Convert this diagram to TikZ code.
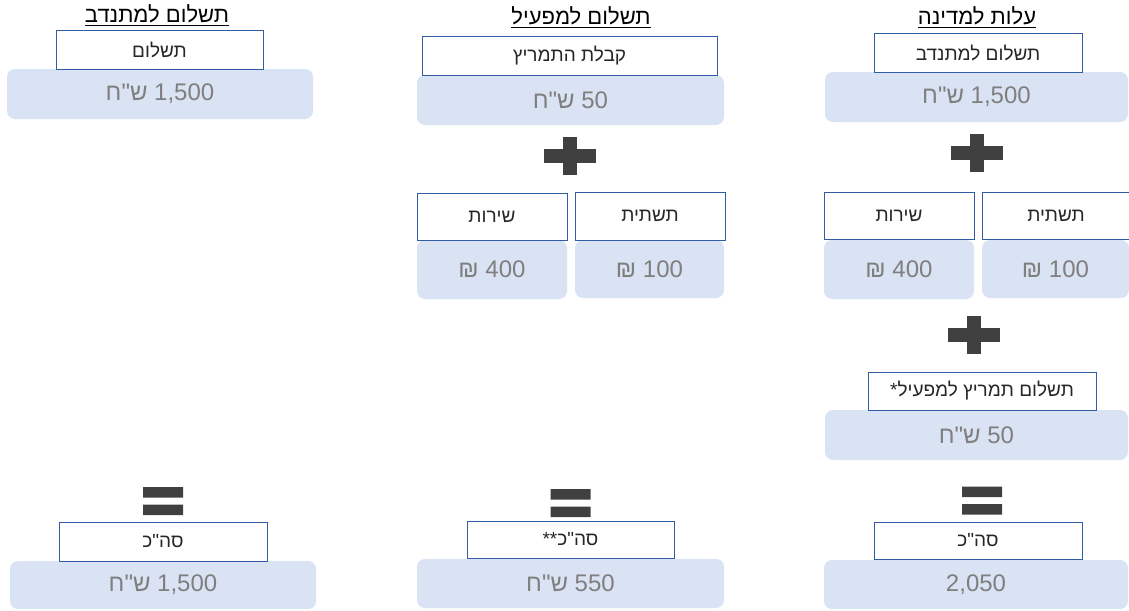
\documentclass[tikz,border=0pt]{standalone}
\usepackage{fontspec}
\setmainfont{Liberation Sans}
\newfontfamily\hebfont[Script=Hebrew]{Liberation Sans}
\TeXXeTstate=1
\newcommand{\heb}[1]{{\hebfont\beginR #1\endR}}

\definecolor{boxblue}{HTML}{2F5CA5}
\definecolor{valfill}{HTML}{DAE3F3}
\definecolor{valgray}{HTML}{7F7F7F}
\definecolor{labdark}{HTML}{262626}
\definecolor{signgray}{HTML}{404040}

\tikzset{
  head/.style={anchor=base, text=black, inner sep=0pt, font=\fontsize{22}{26}\selectfont},
  labelbox/.style={draw=boxblue, line width=1pt, fill=white, text=labdark, inner sep=0pt, font=\fontsize{19}{22}\selectfont},
  valbox/.style={fill=valfill, rounded corners=8pt, text=valgray, inner sep=0pt, font=\fontsize{24}{28}\selectfont},
  sz/.style 2 args={minimum width=#1pt, minimum height=#2pt}
}

\begin{document}
\begin{tikzpicture}[x=1pt, y=-1pt]
  \useasboundingbox (0,0) rectangle (1129,610);

  % Draw headers
  \node[head] (volHead) at (157,23) {\underline{\heb{תשלום למתנדב}}};
  \node[head] (opHead) at (581,25) {\underline{\heb{תשלום למפעיל}}};
  \node[head] (stHead) at (977,25) {\underline{\heb{עלות למדינה}}};

  % Draw value boxes
  \node[valbox, sz={306}{50}] (volValue) at (160,94) {\heb{\beginL 1,500\endL{} ש"ח}};
  \node[valbox, sz={307}{50}] (opValue) at (570.5,100) {\heb{\beginL 50\endL{} ש"ח}};
  \node[valbox, sz={150}{59}] (opServValue) at (492,269.5) {₪ 400};
  \node[valbox, sz={149}{58}] (opInfraValue) at (649.5,269) {₪ 100};
  \node[valbox, sz={303}{50}] (stValue) at (976.5,97) {\heb{\beginL 1,500\endL{} ש"ח}};
  \node[valbox, sz={150}{59}] (stServValue) at (899,269.5) {₪ 400};
  \node[valbox, sz={147}{58}] (stInfraValue) at (1055.5,269) {₪ 100};
  \node[valbox, sz={303}{50}] (stBonusValue) at (976.5,435) {\heb{\beginL 50\endL{} ש"ח}};

  % Draw totals
  \node[valbox, sz={306}{48}] (volSumValue) at (163,585) {\heb{\beginL 1,500\endL{} ש"ח}};
  \node[valbox, sz={307}{49}] (opSumValue) at (570.5,583.5) {\heb{\beginL 550\endL{} ש"ח}};
  \node[valbox, sz={304}{49}] (stSumValue) at (976,584.5) {2,050};

  % Draw label boxes
  \node[labelbox, sz={207}{38}] (volLabel) at (159.5,50) {\heb{תשלום}};
  \node[labelbox, sz={295}{38}] (opLabel) at (569.5,56) {\heb{קבלת התמריץ}};
  \node[labelbox, sz={150}{47}] (opServLabel) at (492,216.5) {\heb{שירות}};
  \node[labelbox, sz={150}{48}] (opInfraLabel) at (650,216) {\heb{תשתית}};
  \node[labelbox, sz={208}{38}] (stLabel) at (978,53) {\heb{תשלום למתנדב}};
  \node[labelbox, sz={150}{47}] (stServLabel) at (899,215.5) {\heb{שירות}};
  \node[labelbox, sz={148}{47}] (stInfraLabel) at (1056,215.5) {\heb{תשתית}};
  \node[labelbox, sz={228}{38}] (stBonusLabel) at (982,391) {\heb{תשלום תמריץ למפעיל\beginL*\endL}};
  \node[labelbox, sz={208}{39}] (volSumLabel) at (163,541.5) {\heb{סה"כ}};
  \node[labelbox, sz={207}{37}] (opSumLabel) at (570.5,539.5) {\heb{סה"כ\beginL**\endL}};
  \node[labelbox, sz={208}{37}] (stSumLabel) at (978,540.5) {\heb{סה"כ}};

  % Draw plus signs
  \foreach \x/\y in {570/156, 977/153, 974/335} {
    \fill[signgray] (\x-26,\y-7) rectangle (\x+26,\y+7);
    \fill[signgray] (\x-7,\y-19) rectangle (\x+7,\y+19);
  }

  % Draw equal signs
  \foreach \x/\y in {163/501, 570.5/503, 982/500.5}
    \fill[signgray] (\x-20,\y-14) rectangle (\x+20,\y-3.5)
                    (\x-20,\y+3.5) rectangle (\x+20,\y+14);
\end{tikzpicture}
\end{document}
